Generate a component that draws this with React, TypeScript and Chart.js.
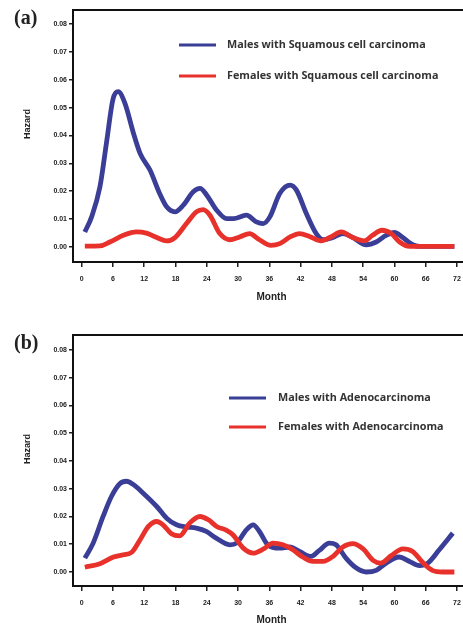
import React, { useEffect, useRef } from "react";
import { Chart, registerables } from "chart.js";

Chart.register(...registerables);

// ---------- data ----------
const monthTicks = [0, 6, 12, 18, 24, 30, 36, 42, 48, 54, 60, 66, 72];
const hazardTicks = [0, 0.01, 0.02, 0.03, 0.04, 0.05, 0.06, 0.07, 0.08];

const sqMaleMonths = [0.6, 1.9, 3.5, 4.8, 6, 7, 8.3, 9.9, 11.2, 13.1, 15, 16.3, 17.9, 19.5, 21.4, 22.7, 24, 25.9, 27.8, 29.1, 31.6, 33.5, 34.8, 36.1, 38, 40, 41.2, 43.1, 45, 46.3, 48.2, 50.1, 52, 54.6, 56.5, 58.4, 60, 61.6, 63.5, 64.8, 68, 71.5];
const sqMaleHazard = [0.0054, 0.0108, 0.0216, 0.038, 0.053, 0.0557, 0.0515, 0.041, 0.0336, 0.0276, 0.019, 0.0144, 0.0126, 0.015, 0.0198, 0.021, 0.0186, 0.0132, 0.0102, 0.0102, 0.0114, 0.009, 0.0084, 0.0108, 0.0192, 0.0222, 0.0204, 0.012, 0.0048, 0.0026, 0.0034, 0.0048, 0.0034, 0.0008, 0.0018, 0.0042, 0.0052, 0.0034, 0.0008, 0.0002, 0.0002, 0.0002];

const sqFemaleMonths = [0.6, 3.5, 5.4, 8, 10.5, 12.4, 14.4, 16.3, 17.9, 20.1, 22, 23.3, 24.6, 26.5, 28.4, 30.3, 32.2, 34.1, 36.3, 38, 40, 41.8, 43.7, 45.9, 47.8, 49.8, 52, 54.2, 55.8, 57.6, 59.4, 61, 62.9, 66, 71.5];
const sqFemaleHazard = [0.0003, 0.0004, 0.0018, 0.0042, 0.0054, 0.005, 0.0034, 0.0022, 0.0034, 0.0084, 0.0126, 0.0134, 0.0114, 0.0048, 0.0026, 0.0036, 0.0048, 0.0026, 0.0006, 0.0012, 0.0036, 0.0048, 0.0038, 0.0022, 0.0036, 0.0054, 0.0034, 0.0022, 0.0042, 0.006, 0.0048, 0.0018, 0.0002, 0.0002, 0.0002];

const adMaleMonths = [0.6, 2.2, 4.1, 5.7, 7.3, 8.6, 9.9, 11.8, 14.4, 16.3, 18.2, 20.1, 22, 23.9, 25.8, 28.4, 29.7, 31.6, 32.9, 34.1, 35.7, 38, 39.9, 41.8, 44, 45.6, 47.5, 48.8, 50.7, 52.7, 54.6, 56.5, 58.4, 60.9, 62.9, 64.8, 66.4, 68.6, 71.2];
const adMaleHazard = [0.005, 0.0104, 0.02, 0.0272, 0.0318, 0.0327, 0.0315, 0.0284, 0.0236, 0.0194, 0.017, 0.0162, 0.0158, 0.0146, 0.0122, 0.0098, 0.0104, 0.0152, 0.017, 0.0146, 0.0098, 0.0086, 0.009, 0.0074, 0.0056, 0.0078, 0.0104, 0.0098, 0.005, 0.0014, 0.0, 0.0006, 0.0032, 0.0054, 0.0038, 0.0023, 0.0032, 0.008, 0.014];

const adFemaleMonths = [0.6, 3.5, 6.1, 8, 9.6, 11.2, 12.8, 14.4, 15.6, 17.2, 18.8, 20.7, 22.7, 24.3, 25.9, 27.8, 29, 31, 32.9, 34.8, 36.7, 38.6, 40.5, 42.4, 44.4, 46.3, 48.2, 50.1, 52, 54, 55.9, 57.4, 59.4, 61.6, 63.5, 65.4, 67.3, 69.3, 71.5];
const adFemaleHazard = [0.0017, 0.003, 0.0054, 0.0062, 0.0071, 0.0116, 0.0164, 0.0182, 0.017, 0.0138, 0.013, 0.0176, 0.02, 0.0188, 0.0164, 0.015, 0.0134, 0.0086, 0.0068, 0.0082, 0.0104, 0.0098, 0.008, 0.0054, 0.0038, 0.0038, 0.0056, 0.009, 0.0102, 0.0083, 0.0042, 0.0032, 0.0059, 0.0083, 0.0074, 0.0035, 0.0006, 0.0, 0.0];

const seriesLabels = {
  a: ["Males with Squamous cell carcinoma", "Females with Squamous cell carcinoma"],
  b: ["Males with Adenocarcinoma", "Females with Adenocarcinoma"],
};

const BLUE = "#3b3e96";
const RED = "#e8312b";

const toXY = (xs: number[], ys: number[]) => xs.map((x, i) => ({ x, y: ys[i] }));

type PanelProps = {
  top: number;
  height: number;
  boxTop: number;
  boxBottom: number;
  yMin: number;
  yMax: number;
  panel: string;
  labels: string[];
  male: { x: number; y: number }[];
  female: { x: number; y: number }[];
  legLineX0: number;
  legLineX1: number;
  legTextX: number;
  legY: number[];
  hazY: number;
};

const decorPlugin = {
  id: "decor",
  afterDatasetsDraw(chart: any, _args: any, opts: any) {
    const { ctx, chartArea: a } = chart;
    ctx.save();
    ctx.strokeStyle = "#111";
    ctx.lineWidth = 2;
    ctx.strokeRect(a.left, a.top, a.right - a.left, a.bottom - a.top);

    ctx.fillStyle = "#222";
    ctx.textBaseline = "middle";
    ctx.textAlign = "left";
    ctx.font = 'bold 20px "Liberation Serif"';
    ctx.fillText(opts.panel, opts.panelX, opts.panelY);

    ctx.save();
    ctx.translate(opts.hazX, opts.hazY);
    ctx.rotate(-Math.PI / 2);
    ctx.textAlign = "center";
    ctx.font = 'bold 9px "Liberation Sans"';
    ctx.fillText("Hazard", 0, 0);
    ctx.restore();

    ctx.font = 'bold 10.8px "Open Sans"';
    ctx.fillStyle = "#333";
    chart.data.datasets.forEach((ds: any, i: number) => {
      const y = opts.legY[i];
      ctx.strokeStyle = ds.borderColor;
      ctx.lineWidth = 3;
      ctx.beginPath();
      ctx.moveTo(opts.legLineX0, y);
      ctx.lineTo(opts.legLineX1, y);
      ctx.stroke();
      ctx.fillText(ds.label, opts.legTextX, y);
    });
    ctx.restore();
  },
};

const CANVAS_W = 480;
const AREA_LEFT = 73;
const AREA_RIGHT = 470;
const X_MIN = -1.67;
const X_MAX = 74.5;

function Panel(p: PanelProps) {
  const ref = useRef<HTMLCanvasElement | null>(null);
  useEffect(() => {
    if (!ref.current) return;
    const chart = new Chart(ref.current, {
      type: "line",
      data: {
        datasets: [
          {
            label: p.labels[0],
            data: p.male,
            borderColor: BLUE,
            borderWidth: 4.8,
            pointRadius: 0,
            cubicInterpolationMode: "monotone",
            order: 1,
          },
          {
            label: p.labels[1],
            data: p.female,
            borderColor: RED,
            borderWidth: 4.8,
            pointRadius: 0,
            cubicInterpolationMode: "monotone",
            order: 0,
          },
        ],
      },
      options: {
        responsive: false,
        animation: false,
        devicePixelRatio: 1,
        layout: {
          padding: { top: p.boxTop, right: CANVAS_W - AREA_RIGHT, bottom: 0, left: 0 },
        },
        plugins: {
          legend: { display: false },
          tooltip: { enabled: false },
          decor: {
            panel: p.panel,
            panelX: 14,
            panelY: p.boxTop + 9,
            hazX: 28,
            hazY: p.hazY,
            legLineX0: p.legLineX0,
            legLineX1: p.legLineX1,
            legTextX: p.legTextX,
            legY: p.legY,
          },
        } as any,
        scales: {
          x: {
            type: "linear",
            min: X_MIN,
            max: X_MAX,
            afterFit: (s: any) => {
              s.height = p.height - p.boxBottom;
            },
            afterBuildTicks: (s: any) => {
              s.ticks = monthTicks.map((v) => ({ value: v }));
            },
            grid: {
              drawOnChartArea: false,
              drawTicks: true,
              tickLength: 5,
              color: "#222",
              lineWidth: 1.5,
            },
            border: { display: false },
            ticks: {
              autoSkip: false,
              maxRotation: 0,
              padding: 8,
              color: "#222",
              font: { family: "Liberation Sans", size: 7, weight: "bold" },
              callback: (v: any) => String(v),
            },
            title: {
              display: true,
              text: "Month",
              color: "#222",
              font: { family: "Liberation Sans", size: 10, weight: "bold" },
              padding: { top: 0, bottom: 2 },
            },
          },
          y: {
            type: "linear",
            min: p.yMin,
            max: p.yMax,
            afterFit: (s: any) => {
              s.width = AREA_LEFT;
            },
            afterBuildTicks: (s: any) => {
              s.ticks = hazardTicks.map((v) => ({ value: v }));
            },
            grid: {
              drawOnChartArea: false,
              drawTicks: true,
              tickLength: 4,
              color: "#222",
              lineWidth: 1.5,
            },
            border: { display: false },
            ticks: {
              padding: 2,
              color: "#222",
              font: { family: "Liberation Sans", size: 7, weight: "bold" },
              callback: (v: any) => Number(v).toFixed(2),
            },
          },
        },
      },
      plugins: [decorPlugin],
    } as any);
    return () => chart.destroy();
  }, []);
  return (
    <canvas
      ref={ref}
      width={CANVAS_W}
      height={p.height}
      style={{ position: "absolute", left: 0, top: p.top, width: CANVAS_W, height: p.height }}
    />
  );
}

export default function App() {
  return (
    <div
      style={{
        position: "fixed",
        left: 0,
        top: 0,
        width: 463,
        height: 628,
        overflow: "hidden",
        background: "#fff",
      }}
    >
      <Panel
        top={0}
        height={305}
        boxTop={10}
        boxBottom={262}
        yMin={-0.00538}
        yMax={0.085}
        panel="(a)"
        labels={seriesLabels.a}
        male={toXY(sqMaleMonths, sqMaleHazard)}
        female={toXY(sqFemaleMonths, sqFemaleHazard)}
        legLineX0={179}
        legLineX1={216}
        legTextX={227}
        legY={[45, 76]}
        hazY={124}
      />
      <Panel
        top={300}
        height={328}
        boxTop={35}
        boxBottom={286}
        yMin={-0.00505}
        yMax={0.0854}
        panel="(b)"
        labels={seriesLabels.b}
        male={toXY(adMaleMonths, adMaleHazard)}
        female={toXY(adFemaleMonths, adFemaleHazard)}
        legLineX0={229}
        legLineX1={266}
        legTextX={278}
        legY={[98, 127]}
        hazY={149}
      />
    </div>
  );
}
